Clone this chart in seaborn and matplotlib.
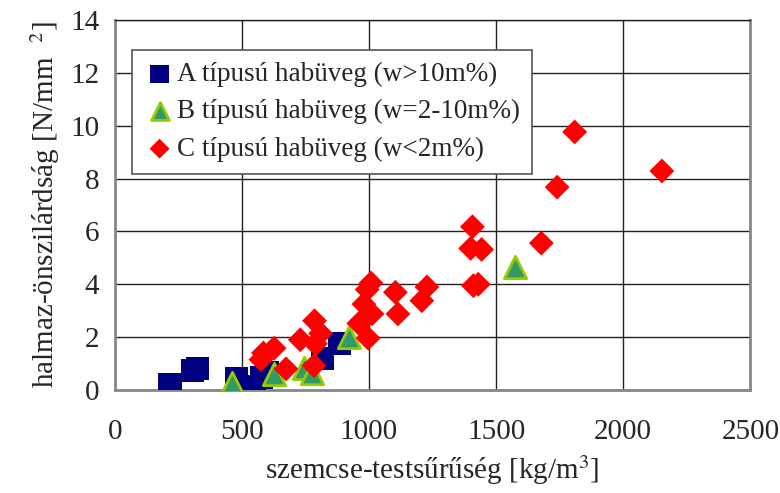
import numpy as np
import pandas as pd
import matplotlib
matplotlib.use('Agg')
import matplotlib.pyplot as plt
import seaborn as sns

# Adatok
a_x = [218, 307, 326, 479, 549, 578, 600, 816, 884]
a_y = [0.20, 0.73, 0.80, 0.42, 0.14, 0.48, 0.65, 1.18, 1.77]

b_x = [462, 627, 745, 777, 923, 1573]
b_y = [0.27, 0.62, 0.82, 0.64, 1.99, 4.65]

c_x = [575, 585, 627, 674, 730, 786, 810, 790, 784, 960, 997, 980, 993, 1008,
       1012, 1104, 1114, 1208, 1228, 1407, 1400, 1443, 1411, 1430, 1678, 1740,
       1809, 2152]
c_y = [1.15, 1.40, 1.58, 0.80, 1.90, 2.62, 2.14, 1.75, 0.92, 2.52, 1.96, 3.25,
       3.80, 4.05, 2.88, 3.70, 2.88, 3.38, 3.90, 6.18, 5.36, 5.32, 3.95, 4.00,
       5.56, 7.68, 9.77, 8.29]

labels = ['A típusú habüveg (w>10m%)',
          'B típusú habüveg (w=2-10m%)',
          'C típusú habüveg (w<2m%)']

x_ticks = [0, 500, 1000, 1500, 2000, 2500]
y_ticks = [0, 2, 4, 6, 8, 10, 12, 14]

sns.set_style('white')
plt.rcParams['font.family'] = ['Liberation Serif', 'DejaVu Serif']
plt.rcParams['mathtext.fontset'] = 'stix'

fig = plt.figure(figsize=(7.8, 4.93), dpi=100)
ax = fig.add_axes([0.147, 0.209, 0.815, 0.75])

ax.grid(True, color='#222222', linewidth=1.0)
ax.set_axisbelow(True)

sns.scatterplot(x=a_x, y=a_y, marker='s', s=280, color='#000080',
                edgecolor='none', label=labels[0], ax=ax, zorder=3)
sns.scatterplot(x=b_x, y=b_y, marker='^', s=260, color='#339966',
                edgecolor='#99CC00', linewidth=2, label=labels[1], ax=ax, zorder=4)
sns.scatterplot(x=c_x, y=c_y, marker='D', s=160, color='#FF0000',
                edgecolor='none', label=labels[2], ax=ax, zorder=5)

ax.set_xlim(0, 2500)
ax.set_ylim(0, 14)
ax.set_xticks(x_ticks)
ax.set_yticks(y_ticks)
ax.tick_params(axis='both', labelsize=21, direction='out', length=6,
               width=1, color='#333333', pad=5)
ax.tick_params(axis='x', length=9, pad=12)

for side in ['left', 'bottom', 'right']:
    ax.spines[side].set_color('#888888')
    ax.spines[side].set_linewidth(2)
ax.spines['top'].set_color('#222222')
ax.spines['top'].set_linewidth(1)

ax.set_xlabel('szemcse-testsűrűség [kg/m$^3$]', fontsize=21, labelpad=6)
ax.set_ylabel('halmaz-önszilárdság [N/mm  $^2$]', fontsize=21, labelpad=6)

leg = ax.legend(loc='upper left', bbox_to_anchor=(0.028, 0.92), fontsize=19.5,
                frameon=True, fancybox=False, edgecolor='#555555',
                framealpha=1, handletextpad=0.1, borderpad=0.45,
                labelspacing=0.45, handlelength=1.1, markerscale=0.8,
                borderaxespad=0)
leg.get_frame().set_linewidth(1.2)

plt.savefig('out.png', dpi=100)
plt.close()
